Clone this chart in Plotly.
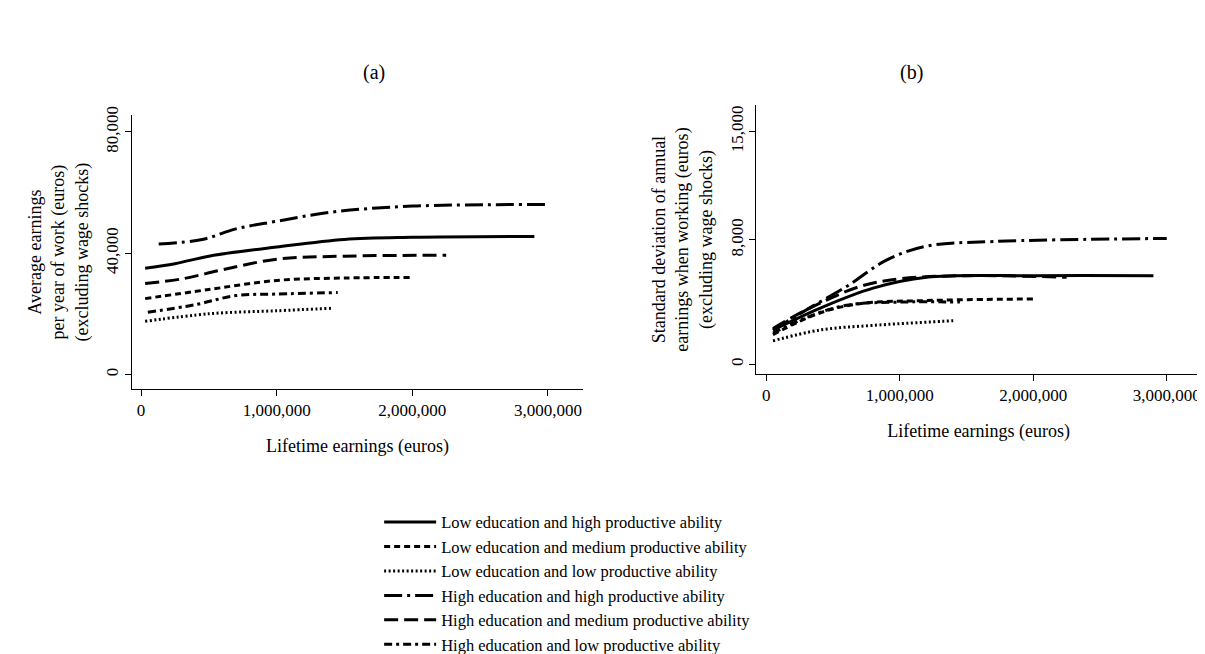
import plotly.graph_objects as go

names = ["Low education and high productive ability",
         "Low education and medium productive ability",
         "Low education and low productive ability",
         "High education and high productive ability",
         "High education and medium productive ability",
         "High education and low productive ability"]
dashes = ["solid", "6px,4px", "2px,2.5px", "18px,5px,3px,5px", "14px,6px", "8px,4px,3px,4px"]

# Panel (a): lifetime earnings (euros) vs average earnings per year (euros)
a_LH_x = [30000, 250000, 500000, 1000000, 1500000, 2000000, 2900000]
a_LH_y = [35000, 36500, 39000, 42000, 44500, 45200, 45500]
a_LM_x = [30000, 500000, 1000000, 1500000, 2000000]
a_LM_y = [25000, 28000, 31000, 31800, 32000]
a_LL_x = [30000, 500000, 1000000, 1400000]
a_LL_y = [17500, 20000, 21000, 21800]
a_HH_x = [130000, 450000, 700000, 1000000, 1400000, 2000000, 3000000]
a_HH_y = [43000, 44500, 48000, 50500, 53500, 55500, 56000]
a_HM_x = [30000, 300000, 600000, 1000000, 1500000, 2250000]
a_HM_y = [30000, 31500, 34500, 38000, 39000, 39300]
a_HL_x = [50000, 400000, 700000, 1000000, 1450000]
a_HL_y = [20500, 23000, 26000, 26500, 27000]

# Panel (b): lifetime earnings vs standard deviation of annual earnings
b_LH_x = [50000, 400000, 800000, 1200000, 2000000, 2900000]
b_LH_y = [2200, 3600, 4900, 5600, 5700, 5700]
b_LM_x = [50000, 400000, 700000, 1200000, 2000000]
b_LM_y = [1900, 3300, 3900, 4100, 4200]
b_LL_x = [50000, 400000, 800000, 1400000]
b_LL_y = [1500, 2200, 2500, 2800]
b_HH_x = [50000, 300000, 600000, 900000, 1200000, 1700000, 3000000]
b_HH_y = [2200, 3500, 5000, 6700, 7600, 7900, 8100]
b_HM_x = [50000, 300000, 700000, 1000000, 1500000, 2250000]
b_HM_y = [2300, 3500, 5000, 5500, 5700, 5600]
b_HL_x = [50000, 300000, 600000, 1000000, 1450000]
b_HL_y = [2000, 3000, 3800, 4000, 4000]

A = [(a_LH_x, a_LH_y), (a_LM_x, a_LM_y), (a_LL_x, a_LL_y), (a_HH_x, a_HH_y), (a_HM_x, a_HM_y), (a_HL_x, a_HL_y)]
B = [(b_LH_x, b_LH_y), (b_LM_x, b_LM_y), (b_LL_x, b_LL_y), (b_HH_x, b_HH_y), (b_HM_x, b_HM_y), (b_HL_x, b_HL_y)]

FONT = "Liberation Serif"
fig = go.Figure()
for i in range(6):
    fig.add_trace(go.Scatter(x=A[i][0], y=A[i][1], mode="lines", name=names[i], line=dict(color="black", width=3, dash=dashes[i], shape="spline"), xaxis="x", yaxis="y"))
for i in range(6):
    fig.add_trace(go.Scatter(x=B[i][0], y=B[i][1], mode="lines", name=names[i], showlegend=False, line=dict(color="black", width=3, dash=dashes[i], shape="spline"), xaxis="x2", yaxis="y2"))

ax = dict(showgrid=False, zeroline=False, showline=True, linecolor="black", linewidth=1, ticks="outside", ticklen=6, tickcolor="black", tickfont=dict(size=17, family=FONT, color="black"), tickformat=",")
xt = dict(tickvals=[0, 1000000, 2000000, 3000000], title=dict(text="Lifetime earnings (euros)", font=dict(size=18, family=FONT, color="black"), standoff=20))

fig.update_layout(
    width=1205, height=654, margin=dict(l=0, r=0, t=0, b=0),
    plot_bgcolor="white", paper_bgcolor="white",
    font=dict(family=FONT, color="black"),
    xaxis=dict(**ax, **xt, domain=[0.103, 0.477], range=[-66000, 3257000], anchor="y"),
    yaxis=dict(**ax, domain=[0.407, 0.843], range=[-4740, 85400], tickvals=[0, 40000, 80000], tickangle=-90, anchor="x",
               title=dict(text="Average earnings<br>per year of work (euros)<br>(excluding wage shocks)", font=dict(size=18, family=FONT, color="black"), standoff=10)),
    xaxis2=dict(**ax, **xt, domain=[0.621, 0.99], range=[-75000, 3256000], anchor="y2"),
    yaxis2=dict(**ax, domain=[0.431, 0.859], range=[-617, 16670], tickvals=[0, 8000, 15000], tickangle=-90, anchor="x2",
                title=dict(text="Standard deviation of annual<br>earnings when working (euros)<br>(excluding wage shocks)", font=dict(size=18, family=FONT, color="black"), standoff=10)),
    legend=dict(x=0.308, y=0.222, xanchor="left", yanchor="top", font=dict(size=16.5, family=FONT, color="black"), tracegroupgap=0, itemwidth=52, bgcolor="rgba(0,0,0,0)"),
    annotations=[
        dict(text="(a)", x=353/1205, y=1-44/654, xref="paper", yref="paper", showarrow=False, font=dict(size=20, family=FONT, color="black")),
        dict(text="(b)", x=917/1205, y=1-44/654, xref="paper", yref="paper", showarrow=False, font=dict(size=20, family=FONT, color="black")),
    ],
)
fig.write_html("out.html")
